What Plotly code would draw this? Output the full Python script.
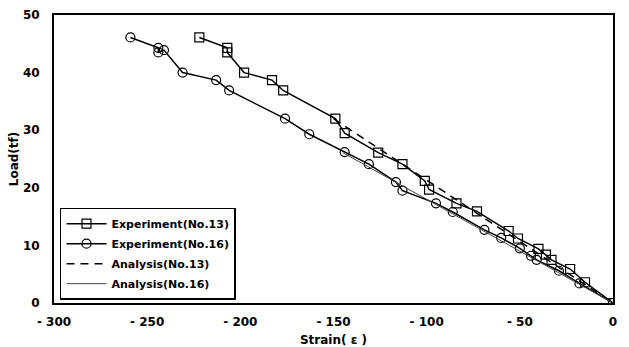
import plotly.graph_objects as go

# Experiment No.13 (squares)
exp13_x = [-222, -207, -207, -198, -183, -177, -149, -144, -126, -113, -101, -98.7,
           -84, -73, -56, -51, -40, -36, -33, -23, -15, 0]
exp13_y = [46.1, 44.3, 43.5, 40.0, 38.7, 36.9, 32.0, 29.5, 26.1, 24.1, 21.2, 19.7,
           17.3, 15.9, 12.5, 11.2, 9.4, 8.4, 7.5, 5.9, 3.6, 0]

# Experiment No.16 (circles)
exp16_x = [-259, -244, -244, -241, -231, -213, -206, -176, -163, -144, -131, -116.5,
           -113, -95, -86, -69, -60, -50, -44, -41, -29, -18, 0]
exp16_y = [46.1, 44.3, 43.5, 43.9, 40.0, 38.7, 36.9, 32.0, 29.3, 26.2, 24.1, 21.0,
           19.5, 17.3, 15.8, 12.7, 11.3, 9.5, 8.2, 7.5, 5.6, 3.4, 0]

# Analysis lines
ana13_x = [-150, 0]
ana13_y = [32.0, 0]
ana16_x = [-145, 0]
ana16_y = [26.1, 0]

x_ticks = [-300, -250, -200, -150, -100, -50, 0]
y_ticks = [0, 10, 20, 30, 40, 50]

fig = go.Figure()
fig.add_trace(go.Scatter(x=exp13_x, y=exp13_y, mode="lines+markers", name="Experiment(No.13)",
                         legendgroup="a",
                         line=dict(color="black", width=1.5),
                         marker=dict(symbol="square-open", size=9, color="black", line=dict(width=1.2))))
fig.add_trace(go.Scatter(x=exp16_x, y=exp16_y, mode="lines+markers", name="Experiment(No.16)",
                         legendgroup="b",
                         line=dict(color="black", width=1.5),
                         marker=dict(symbol="circle-open", size=9, color="black", line=dict(width=1.2))))
fig.add_trace(go.Scatter(x=ana13_x, y=ana13_y, mode="lines", name="Analysis(No.13)",
                         legendgroup="c",
                         line=dict(color="black", width=1.5, dash="8px,6px")))
fig.add_trace(go.Scatter(x=ana16_x, y=ana16_y, mode="lines", name="Analysis(No.16)",
                         legendgroup="d",
                         line=dict(color="#444444", width=1)))

font_fam = "DejaVu Sans"
fig.update_layout(
    width=629, height=347,
    margin=dict(l=54, r=16, t=15, b=44),
    paper_bgcolor="white", plot_bgcolor="white",
    font=dict(family=font_fam, size=12, color="black", weight="bold"),
    showlegend=True,
    legend=dict(x=0.0107, y=0.331, xanchor="left", yanchor="top",
                bgcolor="white", bordercolor="black", borderwidth=1.5,
                font=dict(family=font_fam, size=11, color="black", weight="bold"),
                itemwidth=40, tracegroupgap=1),
)
fig.update_xaxes(range=[-300, 0], tickvals=x_ticks, ticktext=[str(v).replace("-", "- ") for v in x_ticks],
                 showgrid=False, zeroline=False, showline=True, linecolor="black", linewidth=2,
                 mirror=True, ticks="", ticklabelstandoff=7, automargin=False,
                 title=dict(text="Strain( ε )", font=dict(family=font_fam, size=12, weight="bold"), standoff=27))
fig.update_yaxes(range=[0, 50], tickvals=y_ticks,
                 showgrid=False, zeroline=False, showline=True, linecolor="black", linewidth=2,
                 mirror=True, ticks="", ticklabelstandoff=10, automargin=False,
                 title=dict(text="Load(tf)", font=dict(family=font_fam, size=12, weight="bold"), standoff=2))

fig.write_html("out.html")
